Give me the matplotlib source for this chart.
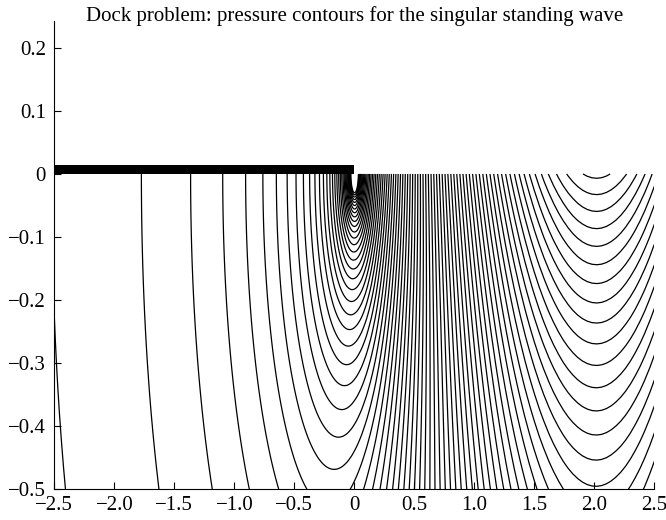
import numpy as np
import matplotlib
matplotlib.use('Agg')
import matplotlib.pyplot as plt

# wave number of the standing wave and the truncated fluid region used for the solve
K = 1.0
x_left, x_right, depth, h = -8.0, 9.85, 5.0, 0.04

# dock: from the left edge of the plot to the dock edge at x=0
dock_x = [-2.5, 0.0]
dock_thickness = 0.0147

# contour levels: level_base + level_step * k
level_base = -0.4275
level_step = 0.1112
level_k = np.arange(-32, 44)

xticks = [-2.5, -2.0, -1.5, -1.0, -0.5, 0.0, 0.5, 1.0, 1.5, 2.0, 2.5]
yticks = [-0.5, -0.4, -0.3, -0.2, -0.1, 0.0, 0.1, 0.2]
title = 'Dock problem: pressure contours for the singular standing wave'


def solve_potential(K, x_right):
    """phi = log r + u; finite differences for u, block tridiagonal solve"""
    xs = x_left + h * (np.arange(int(round((x_right - x_left) / h - 0.5))) + 0.5)
    x_right = xs[-1] + h
    ys = -depth + h * np.arange(int(round(depth / h)) + 1)
    nx, ny = len(xs), len(ys)

    T = np.diag(-4.0 * np.ones(ny)) + np.diag(np.ones(ny - 1), 1) + np.diag(np.ones(ny - 1), -1)
    T[0, 1] = 2.0    # flat bottom
    T[-1, -2] = 2.0  # surface: dock or free surface

    b = np.zeros((nx, ny))
    b[:, 0] += 2 * h * depth / (xs**2 + depth**2)
    free = xs > 0
    b[free, -1] += -2 * h * K * np.log(xs[free])
    xg = xs[0] - h / 2
    b[0, :] += 2 * h * (-xg / (xg**2 + ys**2))
    b[-1, :] += 0.5 * np.log(x_right**2 + ys**2)  # node of the wave at x_right

    Minv = np.empty((nx, ny, ny))
    g = np.empty((nx, ny))
    for i in range(nx):
        A = T.copy()
        if free[i]:
            A[-1, -1] += 2 * h * K
        if i == 0:
            g[0] = b[0]
            Minv[0] = np.linalg.inv(A)
            continue
        up = 2.0 if i == 1 else 1.0
        g[i] = b[i] - Minv[i - 1] @ g[i - 1]
        Minv[i] = np.linalg.inv(A - up * Minv[i - 1])

    u = np.empty((nx, ny))
    u[-1] = Minv[-1] @ g[-1]
    for i in range(nx - 2, -1, -1):
        up = 2.0 if i == 0 else 1.0
        u[i] = Minv[i] @ (g[i] - up * u[i + 1])
    return xs, ys, u


xs, ys, u = solve_potential(K, x_right)
nx, ny = u.shape

# evaluate on a fine grid over the plotted window
xp = np.linspace(-2.5, 2.5, 1001)
yp = np.linspace(-0.5, 0.0, 401)
X, Y = np.meshgrid(xp, yp)
fx = (X - xs[0]) / h
fy = (Y - ys[0]) / h
i0 = np.clip(np.floor(fx).astype(int), 0, nx - 2)
j0 = np.clip(np.floor(fy).astype(int), 0, ny - 2)
tx = fx - i0
ty = fy - j0
U = (u[i0, j0] * (1 - tx) * (1 - ty) + u[i0 + 1, j0] * tx * (1 - ty)
     + u[i0, j0 + 1] * (1 - tx) * ty + u[i0 + 1, j0 + 1] * tx * ty)
phi = 0.5 * np.log(np.maximum(X**2 + Y**2, 1e-10)) + U

levels = level_base + level_step * level_k

plt.rcParams['font.family'] = ['Liberation Serif', 'DejaVu Serif']
fig = plt.figure(figsize=(6.66, 5.2), dpi=100)
ax = fig.add_axes([54.4 / 666, 1 - 489.3 / 520, 600 / 666, (489.3 - 20.7) / 520])
ax.contour(X, Y, phi, levels=levels, colors='k', linewidths=0.9, linestyles='solid')
ax.fill_between(dock_x, 0.0, dock_thickness, color='k', lw=0)

ax.set_xlim(-2.5, 2.5)
ax.set_ylim(-0.5, 0.243)
ax.set_xticks(xticks)
ax.set_yticks(yticks)
fmt = lambda v, p: '0' if abs(v) < 1e-9 else ('%.1f' % v).replace('-', '\u2212')
ax.xaxis.set_major_formatter(plt.FuncFormatter(fmt))
ax.yaxis.set_major_formatter(plt.FuncFormatter(fmt))
ax.tick_params(direction='in', length=5, width=0.8, labelsize=15)
ax.tick_params(axis='x', pad=5)
ax.tick_params(axis='y', pad=6)
ax.spines['top'].set_visible(False)
ax.spines['right'].set_visible(False)

fig.text(354.4 / 666, 1 - 20.7 / 520, title, ha='center', va='baseline', fontsize=15)
fig.savefig('out.png')
